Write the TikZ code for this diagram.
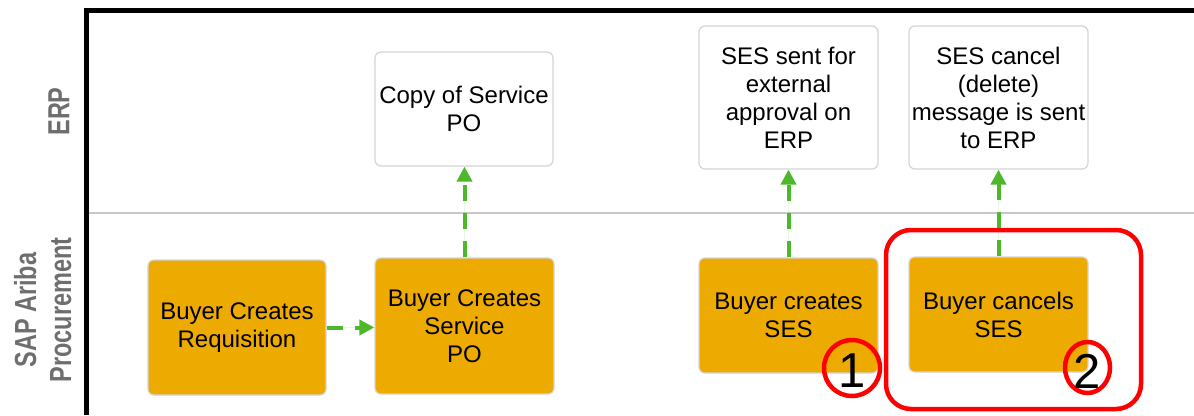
\documentclass[tikz,border=0pt]{standalone}
\usepackage{fontspec}
\setmainfont{Liberation Sans}
\newfontfamily\lanefont[FakeStretch=0.77]{Liberation Sans}
\usetikzlibrary{arrows.meta,shapes.geometric}
\definecolor{aribaorange}{RGB}{237,170,0}
\definecolor{boxgray}{RGB}{212,212,212}
\definecolor{lanegray}{RGB}{200,200,200}
\definecolor{labelgray}{RGB}{110,110,110}
\definecolor{flowgreen}{RGB}{77,184,41}
\definecolor{markred}{RGB}{255,0,0}
\tikzset{
  boxbase/.style={rectangle, rounded corners=6pt, draw=boxgray, line width=1.2pt,
    align=center, inner sep=0pt, text=black,
    font=\fontsize{24}{28}\selectfont},
  orangebox/.style={boxbase, fill=aribaorange},
  erpbox/.style={boxbase, fill=white},
  flow/.style={draw=flowgreen, line width=4pt, dash pattern=on 16pt off 12pt,
    -{Triangle[length=15pt,width=15pt]}, fill=flowgreen},
  lanelabel/.style={rotate=90, text=labelgray, align=center, inner sep=0pt,
    font=\lanefont\bfseries\fontsize{30.5}{35}\selectfont},
  redmark/.style={draw=markred, line width=4.5pt},
  numtext/.style={inner sep=0pt, text=black, font=\fontsize{49}{49}\selectfont}
}
\begin{document}
\begin{tikzpicture}[x=1pt,y=-1pt]
\useasboundingbox (0,0) rectangle (1194,415);
% lanes
\coordinate (laneL) at (89,213);
\coordinate (laneR) at (1194,213);
\draw[lanegray, line width=2pt] (laneL) -- (laneR);
\coordinate (fb) at (86.5,415);
\coordinate (fc) at (86.5,10);
\coordinate (fr) at (1194,10);
\draw[black, line width=5pt, line join=miter] (fb) -- (fc) -- (fr);
\node[lanelabel] (erplabel) at (59,111.5) {ERP};
\node[lanelabel] (aribalabel) at (42.7,310) {SAP Ariba\\Procurement};
% process boxes
\node[orangebox, minimum width=178pt, minimum height=135pt] (req) at (237,327.5) {Buyer Creates\\Requisition};
\node[orangebox, minimum width=179pt, minimum height=136pt] (po) at (464.5,326) {Buyer Creates\\Service\\PO};
\node[orangebox, minimum width=179pt, minimum height=115pt] (ses1) at (788.5,315.5) {Buyer creates\\SES};
\node[orangebox, minimum width=179pt, minimum height=115pt] (ses2) at (998.5,314.5) {Buyer cancels\\SES};
\node[erpbox, minimum width=178pt, minimum height=114pt] (copy) at (464,109) {Copy of Service\\PO};
\node[erpbox, minimum width=179pt, minimum height=143pt] (erp1) at (788.5,97.5) {SES sent for\\external\\approval on\\ERP};
\node[erpbox, minimum width=179pt, minimum height=143pt] (erp2) at (998.5,97.5) {SES cancel\\(delete)\\message is sent\\to ERP};
% flows
\draw[flow] (req.east) -- (req.east -| po.west);
\draw[flow] (po.north) -- (po.north |- copy.south);
\draw[flow] (ses1.north) -- (ses1.north |- erp1.south);
\draw[flow] (ses2.north) -- (ses2.north |- erp2.south);
% highlights
\node[redmark, rectangle, rounded corners=25pt, minimum width=255pt, minimum height=179pt, inner sep=0pt] (hl) at (1013.5,319.5) {};
\node[redmark, circle, minimum size=56pt, inner sep=0pt] (m1) at (852,368) {};
\node[numtext] (n1) at (852,371) {1};
\node[redmark, ellipse, minimum width=45pt, minimum height=51pt, inner sep=0pt] (m2) at (1087.5,367.5) {};
\node[numtext] (n2) at (1087.5,371) {2};
\end{tikzpicture}
\end{document}
